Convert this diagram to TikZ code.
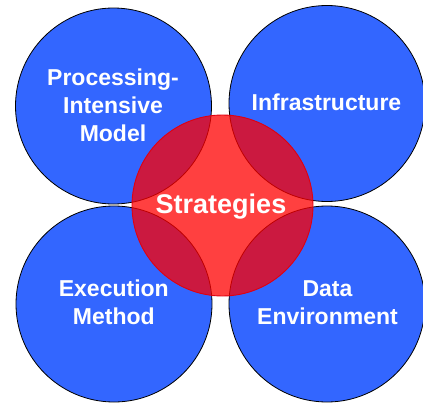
\documentclass[tikz,border=0pt]{standalone}
\usepackage{fontspec}
\setmainfont{Liberation Sans}
\definecolor{petal}{HTML}{3366FF}
\definecolor{corered}{HTML}{FF0000}
\definecolor{coreedge}{HTML}{E00010}
\begin{document}
\begin{tikzpicture}[x=1pt,y=-1pt,
  petalnode/.style={circle, draw=black, line width=0.8pt, fill=petal, minimum size=196pt, inner sep=0pt},
  corenode/.style={circle, draw=coreedge, line width=0.9pt, fill=corered, fill opacity=0.75, minimum size=181pt, inner sep=0pt},
  lbl/.style={text=white, font=\bfseries\fontsize{23}{28}\selectfont, align=center, inner sep=0pt},
  biglbl/.style={text=white, font=\bfseries\fontsize{27}{32}\selectfont, inner sep=0pt}
]
\useasboundingbox (0,0) rectangle (423,407);
\node[petalnode] (tl) at (113.5,106) {};
\node[petalnode] (tr) at (327,103.5) {};
\node[petalnode] (bl) at (114,304) {};
\node[petalnode] (br) at (327,304) {};
\node[corenode] (core) at (222.5,205.5) {};
\node[lbl] (tltext) at (113,104.8) {Processing-\\Intensive\\Model};
\node[lbl, anchor=base] (trtext) at (326.5,110) {Infrastructure};
\node[lbl] (bltext) at (113.8,302.5) {Execution\\Method};
\node[lbl] (brtext) at (327.5,302.8) {Data\\Environment};
\node[biglbl, anchor=base] (coretext) at (221,213) {Strategies};
\end{tikzpicture}
\end{document}
